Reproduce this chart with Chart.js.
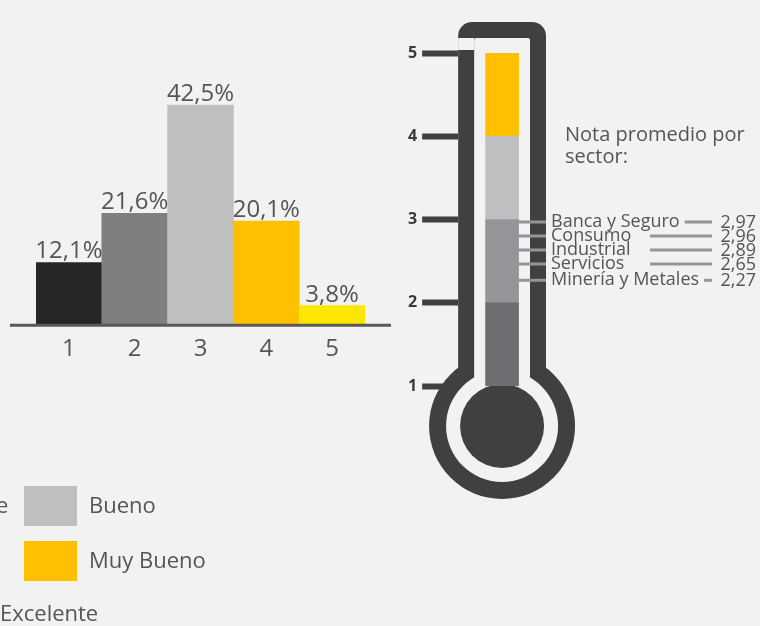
<!DOCTYPE html>
<html>
<head>
<meta charset="utf-8">
<script src="https://cdn.jsdelivr.net/npm/chart.js@4"></script>
<style>
  html, body { margin: 0; padding: 0; background: #f2f2f2; overflow: hidden; }
  #barBox { position: absolute; left: 0; top: 0; width: 400px; height: 626px; }
  #thermoBox { position: absolute; left: 400px; top: 0; width: 360px; height: 626px; }
</style>
</head>
<body>
<div id="barBox"><canvas id="barCanvas"></canvas></div>
<div id="thermoBox"><canvas id="thermoCanvas"></canvas></div>
<script>
// distribucion de notas (1 a 5)
const categories = ['1', '2', '3', '4', '5']
const shares = [12.1, 21.6, 42.5, 20.1, 3.8]
const barColors = ['#262626', '#7f7f7f', '#bfbfbf', '#ffc000', '#ffe600']
const legendLabels = ['Deficiente', 'Regular', 'Bueno', 'Muy Bueno', 'Excelente']

// termometro: escala y tramos de color
const scaleTicks = [1, 2, 3, 4, 5]
const bandRanges = [[1, 2], [2, 3], [3, 4], [4, 5]]
const bandColors = ['#6d6e71', '#939598', '#bfc0c2', '#ffc000']

// nota promedio por sector
const sectors = ['Banca y Seguro', 'Consumo', 'Industrial', 'Servicios', 'Minería y Metales']
const sectorScores = [2.97, 2.96, 2.89, 2.65, 2.27]

const FONT = '"Open Sans", Roboto, sans-serif'
const TEXT = '#555555'
const DARK = '#404041'
const BG = '#f2f2f2'

function fmt(v, d) {
    return v.toFixed(d).replace('.', ',')
}

const barExtras = {
    id: 'barExtras',
    afterDatasetsDraw(chart) {
        const ctx = chart.ctx
        const y0 = chart.scales.y.getPixelForValue(0)
        ctx.save()
        // linea base
        ctx.strokeStyle = '#58595b'
        ctx.lineWidth = 3
        ctx.beginPath()
        ctx.moveTo(10, y0)
        ctx.lineTo(391, y0)
        ctx.stroke()
        // etiquetas de valor
        ctx.font = '24px ' + FONT
        ctx.fillStyle = TEXT
        ctx.textAlign = 'center'
        ctx.textBaseline = 'alphabetic'
        chart.getDatasetMeta(0).data.forEach((bar, i) => {
            ctx.fillText(fmt(shares[i], 1) + '%', bar.x, bar.y - 4)
        })
        ctx.restore()
    },
    afterDraw(chart) {
        const ctx = chart.ctx
        // leyenda en dos columnas, la primera queda fuera del borde
        const items = [
            { sx: -160, y: 486 }, { sx: -160, y: 541 },
            { sx: 24, y: 486 }, { sx: 24, y: 541 },
            { sx: -65, y: 594 }
        ]
        ctx.save()
        ctx.font = '22px ' + FONT
        ctx.textBaseline = 'middle'
        ctx.textAlign = 'left'
        items.forEach((it, i) => {
            ctx.fillStyle = barColors[i]
            ctx.fillRect(it.sx, it.y, 53, 40)
            ctx.fillStyle = TEXT
            ctx.fillText(legendLabels[i], it.sx + 65, it.y + 21)
        })
        ctx.restore()
    }
}

new Chart(document.getElementById('barCanvas'), {
    type: 'bar',
    data: {
        labels: categories,
        datasets: [{
            data: shares,
            backgroundColor: barColors,
            categoryPercentage: 1,
            barPercentage: 1,
            borderWidth: 0
        }]
    },
    options: {
        responsive: true,
        maintainAspectRatio: false,
        animation: false,
        layout: { padding: { left: 36, right: 35, top: 92, bottom: 260 } },
        plugins: { legend: { display: false }, tooltip: { enabled: false } },
        scales: {
            x: {
                grid: { display: false },
                border: { display: false },
                ticks: { color: TEXT, font: { family: FONT, size: 24 }, padding: 2 }
            },
            y: { display: false, min: 0, max: 45 }
        }
    },
    plugins: [barExtras]
})

function spreadRows(pixels, gap) {
    const out = []
    pixels.forEach((p, i) => {
        out.push(i ? Math.max(p, out[i - 1] + gap) : p)
    })
    return out
}

const thermoBody = {
    id: 'thermoBody',
    beforeDatasetsDraw(chart) {
        const ctx = chart.ctx
        const a = chart.chartArea
        const y = chart.scales.y
        const cx = (a.left + a.right) / 2
        const top5 = y.getPixelForValue(5)
        const cy = y.getPixelForValue(1) + 40
        const outerL = a.left, outerR = a.right
        const wall = 16
        const capTop = top5 - 31
        ctx.save()
        ctx.fillStyle = DARK
        // tubo exterior con tapa redondeada
        ctx.beginPath()
        ctx.roundRect(outerL, capTop, outerR - outerL, cy - capTop, [14, 14, 0, 0])
        ctx.fill()
        ctx.beginPath()
        ctx.arc(cx, cy, 73, 0, Math.PI * 2)
        ctx.fill()
        // interior
        ctx.fillStyle = BG
        ctx.beginPath()
        ctx.roundRect(outerL + wall, capTop + wall, outerR - outerL - 2 * wall, cy - capTop - wall, [2, 2, 0, 0])
        ctx.fill()
        ctx.beginPath()
        ctx.arc(cx, cy, 56, 0, Math.PI * 2)
        ctx.fill()
        ctx.fillRect(outerL, capTop + wall, wall, top5 - 3 - (capTop + wall))
        // bulbo
        ctx.fillStyle = DARK
        ctx.beginPath()
        ctx.arc(cx, cy, 42, 0, Math.PI * 2)
        ctx.fill()
        ctx.restore()
    },
    afterDatasetsDraw(chart) {
        const ctx = chart.ctx
        const a = chart.chartArea
        const y = chart.scales.y
        const bar = chart.getDatasetMeta(0).data[0]
        const rows = spreadRows(sectorScores.map(v => y.getPixelForValue(v)), 14)
        ctx.save()
        ctx.strokeStyle = '#939598'
        ctx.lineWidth = 3
        ctx.font = '18px ' + FONT
        ctx.textBaseline = 'middle'
        sectors.forEach((name, i) => {
            const ry = rows[i]
            ctx.beginPath()
            ctx.moveTo(bar.x + bar.width / 2, ry)
            ctx.lineTo(a.right, ry)
            ctx.stroke()
            ctx.fillStyle = TEXT
            ctx.textAlign = 'left'
            ctx.fillText(name, a.right + 5, ry)
            const end = a.right + 5 + ctx.measureText(name).width
            ctx.beginPath()
            ctx.moveTo(Math.max(250, end + 5), ry)
            ctx.lineTo(312, ry)
            ctx.stroke()
            ctx.textAlign = 'right'
            ctx.fillText(fmt(sectorScores[i], 2), 356, ry + 1)
        })
        ctx.font = '20px ' + FONT
        ctx.textAlign = 'left'
        ctx.fillStyle = TEXT
        ctx.fillText('Nota promedio por', 165, 135)
        ctx.fillText('sector:', 165, 157)
        ctx.restore()
    }
}

new Chart(document.getElementById('thermoCanvas'), {
    type: 'bar',
    data: {
        labels: ['Nota'],
        datasets: bandRanges.map((r, i) => ({
            data: [r],
            backgroundColor: bandColors[i],
            grouped: false,
            barThickness: 33,
            borderWidth: 0,
            borderSkipped: false
        }))
    },
    options: {
        responsive: true,
        maintainAspectRatio: false,
        animation: false,
        layout: { padding: { left: 3, right: 214, top: 53, bottom: 240 } },
        plugins: { legend: { display: false }, tooltip: { enabled: false } },
        scales: {
            x: { display: false },
            y: {
                min: 1,
                max: 5,
                afterBuildTicks(axis) { axis.ticks = scaleTicks.map(v => ({ value: v })) },
                border: { display: false },
                grid: {
                    drawOnChartArea: false,
                    drawTicks: true,
                    tickLength: 36,
                    tickWidth: 6,
                    tickColor: DARK
                },
                ticks: {
                    color: '#3a3a3a',
                    padding: 5,
                    font: { family: FONT, size: 16, weight: 'bold' }
                }
            }
        }
    },
    plugins: [thermoBody]
})
</script>
</body>
</html>
